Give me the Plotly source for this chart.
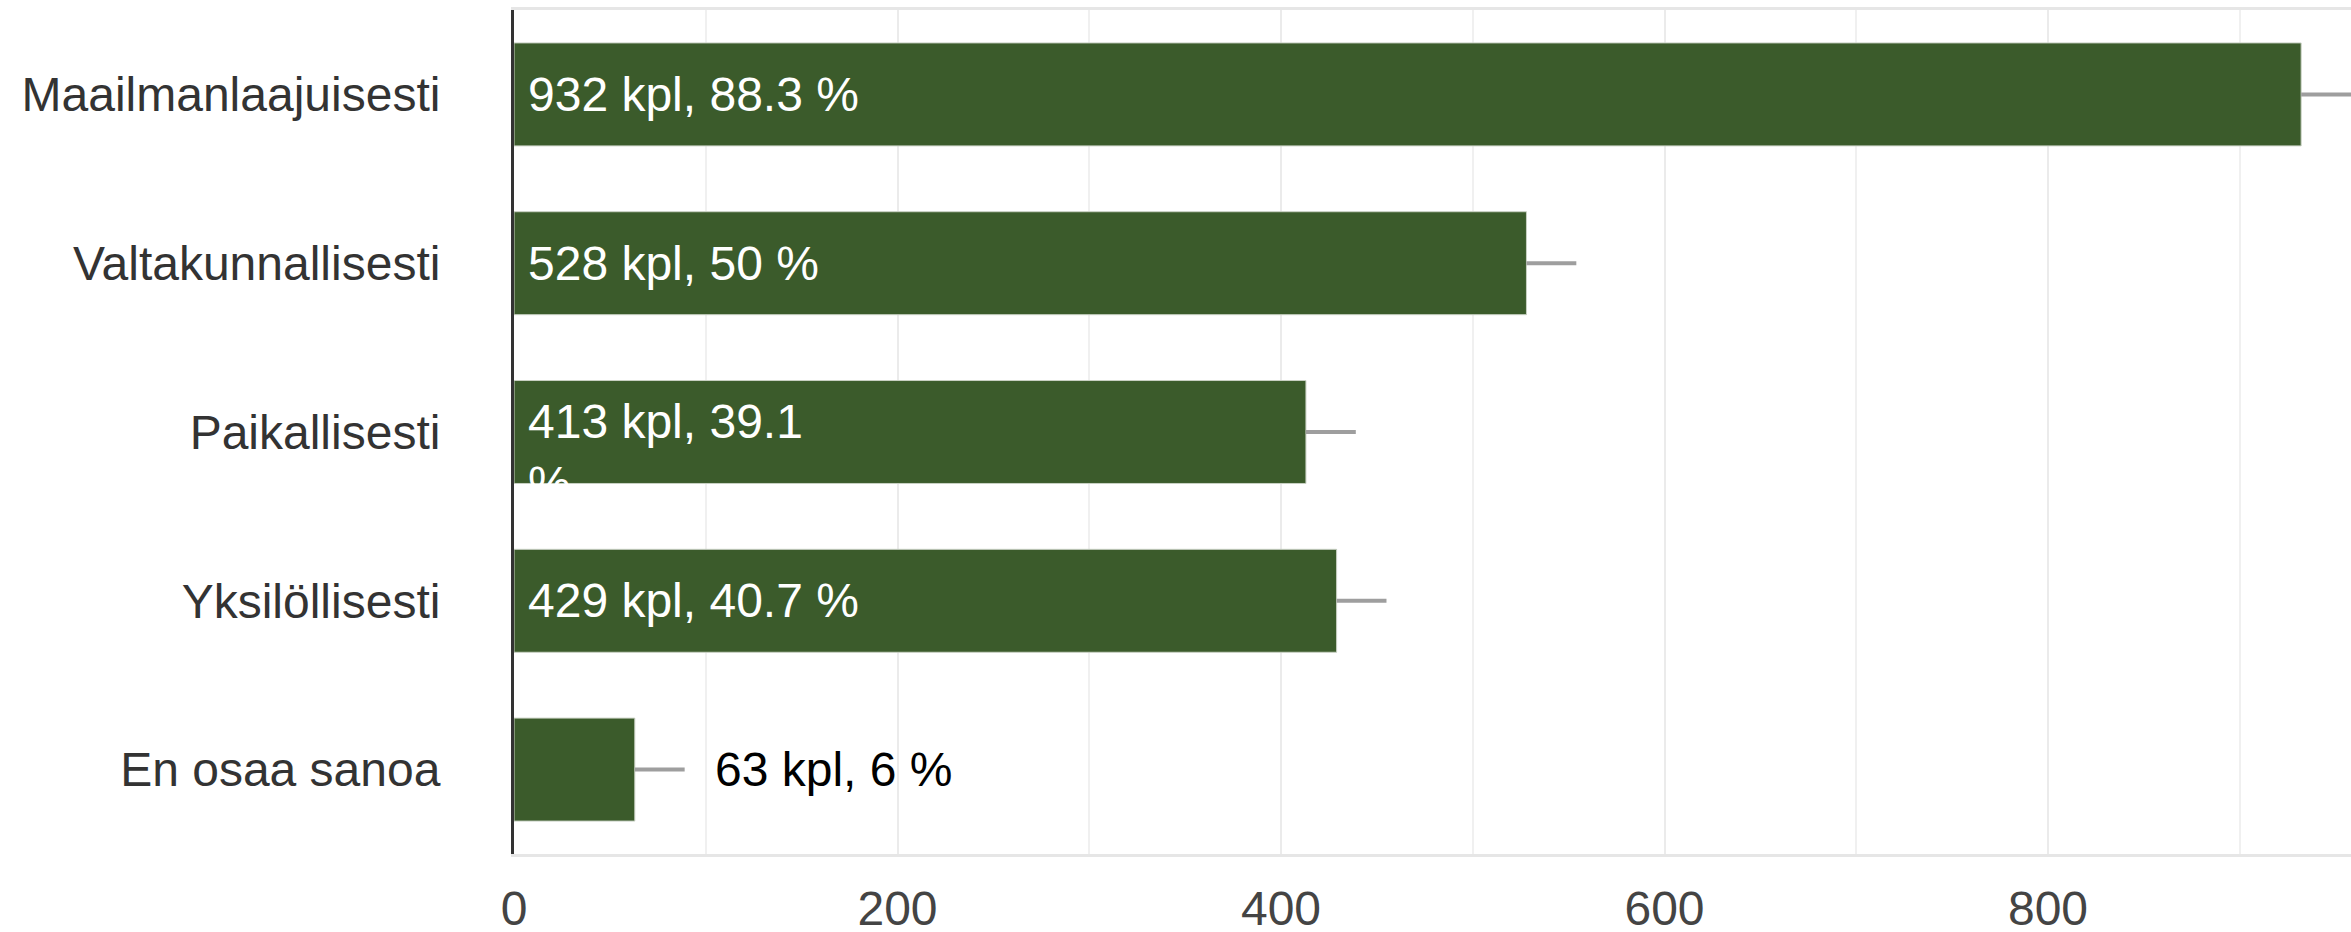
import plotly.graph_objects as go

categories = ["Maailmanlaajuisesti", "Valtakunnallisesti", "Paikallisesti",
              "Yksilöllisesti", "En osaa sanoa"]
counts = [932, 528, 413, 429, 63]
percents = ["88.3", "50", "39.1", "40.7", "6"]
error_plus = [26, 26, 26, 26, 26]
x_ticks = [0, 200, 400, 600, 800]

BAR = "#3b5b2b"
FONT = "Liberation Sans, Arial, sans-serif"

fig = go.Figure()
fig.add_trace(go.Bar(
    y=categories, x=counts, orientation="h",
    marker=dict(color=BAR, line=dict(color="#c9d1c4", width=1)),
    error_x=dict(type="data", symmetric=False, array=error_plus,
                 arrayminus=[0] * len(counts), color="#9e9e9e",
                 thickness=4, width=0),
    hoverinfo="skip", showlegend=False,
))

annotations = []
for cat, c, p in zip(categories, counts, percents):
    label = f"{c} kpl, {p} %"
    inside = c >= 200
    if inside:
        if c < 420:
            # wrapped label as in the reference
            parts = label.rsplit(" ", 1)
            label = parts[0] + "<br>" + parts[1]
            ysh = -20
        else:
            ysh = 0
        annotations.append(dict(
            x=0, y=cat, xref="x", yref="y", text=label, showarrow=False,
            xanchor="left", yanchor="middle", align="left", xshift=12, yshift=ysh,
            font=dict(family=FONT, size=48, color="#ffffff"),
        ))
    else:
        annotations.append(dict(
            x=c, y=cat, xref="x", yref="y", text=label, showarrow=False,
            xanchor="left", yanchor="middle", align="left", xshift=78,
            font=dict(family=FONT, size=48, color="#000000"),
        ))

fig.update_layout(
    width=2351, height=932,
    margin=dict(l=514, r=0, t=10, b=78),
    paper_bgcolor="white", plot_bgcolor="white",
    bargap=0.39,
    font=dict(family=FONT),
    annotations=annotations,
)
fig.update_xaxes(
    range=[0, 958], tickvals=x_ticks, automargin=False,
    showgrid=True, gridcolor="#ebebeb", gridwidth=2,
    minor=dict(dtick=100, showgrid=True, gridcolor="#f0f0f0", gridwidth=2),
    showline=True, linecolor="#e6e6e6", linewidth=3, mirror=True,
    zeroline=False, ticks="", ticklabelstandoff=10,
    tickfont=dict(family=FONT, size=48, color="#444444"),
)
fig.update_yaxes(
    categoryorder="array", categoryarray=categories, automargin=False,
    range=[4.5, -0.5],
    showgrid=False, zeroline=False,
    showline=True, linecolor="#333333", linewidth=3,
    ticks="", ticklabelstandoff=61,
    tickfont=dict(family=FONT, size=48, color="#333333"),
)

fig.write_html("out.html", config={"displayModeBar": False},
               post_script="document.body.style.margin='0';")
